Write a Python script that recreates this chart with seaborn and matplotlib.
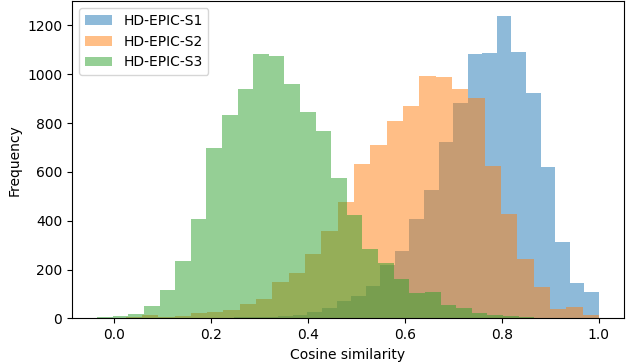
import numpy as np
import pandas as pd
import matplotlib
matplotlib.use("Agg")
import matplotlib.pyplot as plt
import seaborn as sns

labels = ["HD-EPIC-S1", "HD-EPIC-S2", "HD-EPIC-S3"]
colors = ["#1f77b4", "#ff7f0e", "#2ca02c"]

# value range of each series (30 bins each, like plt.hist(bins=30))
s1_range = (0.098, 1.0)
s2_range = (-0.01, 1.0)
s3_range = (-0.035, 0.931)

s1_counts = [0, 1, 1, 2, 3, 4, 5, 7, 10, 13, 27, 44, 73, 92, 133,
             218, 276, 406, 525, 724, 881, 1084, 1088, 1238, 1090, 923, 620, 312, 144, 108]
s2_counts = [2, 4, 13, 7, 8, 20, 27, 34, 58, 79, 147, 184, 263, 357, 476,
             631, 709, 808, 870, 994, 988, 939, 901, 623, 426, 244, 129, 37, 47, 13]
s3_counts = [4, 9, 18, 50, 114, 236, 409, 698, 834, 939, 1084, 1073, 962, 845, 769,
             573, 422, 285, 227, 161, 102, 106, 54, 41, 23, 15, 9, 6, 3, 1]

fig, ax = plt.subplots(figsize=(6.29, 3.64), dpi=100)
fig.subplots_adjust(left=0.1145, right=0.992, top=0.997, bottom=0.1255)

for rng, counts, lab, col in zip([s1_range, s2_range, s3_range],
                                 [s1_counts, s2_counts, s3_counts], labels, colors):
    edges = np.linspace(rng[0], rng[1], len(counts) + 1)
    df = pd.DataFrame({"x": (edges[:-1] + edges[1:]) / 2, "w": counts})
    sns.histplot(data=df, x="x", weights="w", bins=list(edges), color=col, alpha=0.5,
                 linewidth=0, edgecolor="none", label=lab, ax=ax)

ax.set_ylim(0, 1300)
ax.set_xlabel("Cosine similarity")
ax.set_ylabel("Frequency")
ax.legend(loc="upper left")
plt.savefig("out.png", dpi=100)
